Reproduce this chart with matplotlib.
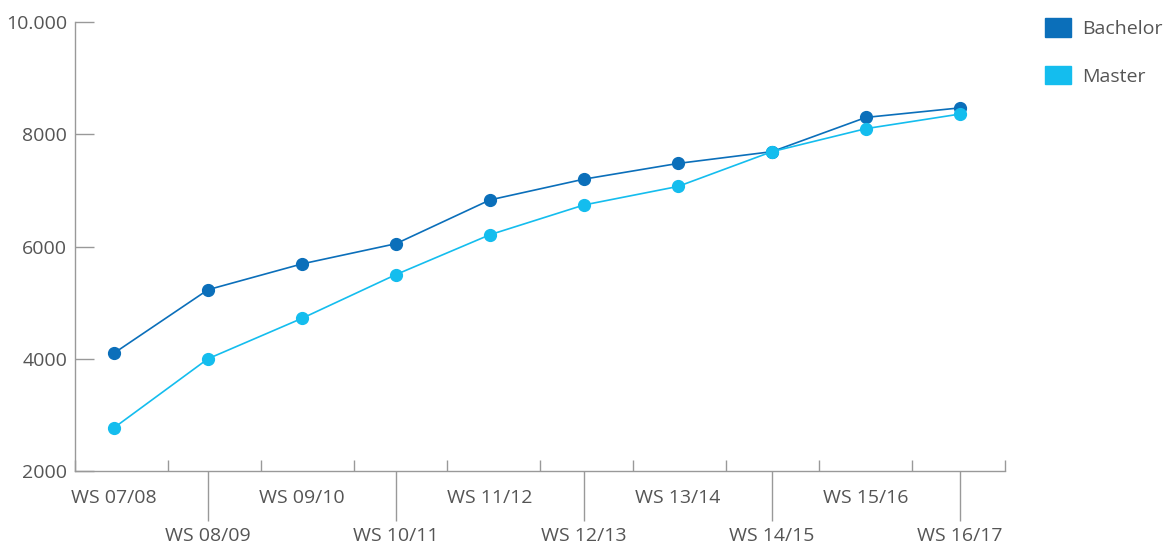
import numpy as np
import matplotlib
matplotlib.use("Agg")
import matplotlib.pyplot as plt
from matplotlib.patches import Patch

plt.rcParams['font.family'] = ['Open Sans', 'DejaVu Sans']

# Studierende je Wintersemester
semesters = ["WS 07/08", "WS 08/09", "WS 09/10", "WS 10/11", "WS 11/12",
             "WS 12/13", "WS 13/14", "WS 14/15", "WS 15/16", "WS 16/17"]
bachelor = [4100, 5230, 5690, 6050, 6830, 7200, 7480, 7690, 8300, 8470]
master = [2770, 4000, 4720, 5500, 6210, 6740, 7070, 7690, 8100, 8360]
yticks = [2000, 4000, 6000, 8000, 10000]
ytick_labels = ["2000", "4000", "6000", "8000", "10.000"]

c_bachelor = "#0b6fba"
c_master = "#14bdee"
c_text = "#555555"
c_axis = "#999999"
fs = 14

fig = plt.figure(figsize=(11.68, 5.44), dpi=100)
ax = fig.add_axes([75 / 1168, 1 - 471 / 544, 930 / 1168, 449 / 544])

x = np.arange(len(semesters))
ax.plot(x, bachelor, color=c_bachelor, lw=1.2, marker="o", ms=8.5, zorder=3)
ax.plot(x, master, color=c_master, lw=1.2, marker="o", ms=8.5, zorder=4)

xmin, xmax = -0.415, 9.479
ax.set_xlim(xmin, xmax)
ax.set_ylim(2000, 10000)

for s in ["top", "right"]:
    ax.spines[s].set_visible(False)
for s in ["left", "bottom"]:
    ax.spines[s].set_color(c_axis)
    ax.spines[s].set_linewidth(1)

ax.set_yticks(yticks)
ax.set_yticklabels(ytick_labels)
ax.tick_params(axis="y", direction="in", length=14, width=1, color=c_axis,
               pad=5.5, labelsize=fs, labelcolor=c_text)

# kurze Striche an den Bandgrenzen, lange an jeder zweiten Kategorie
ax.set_xticks(np.linspace(xmin, xmax, 11), minor=True)
ax.set_xticks(x[1::2])
ax.set_xticklabels([])
ax.tick_params(axis="x", which="minor", direction="in", length=8, width=1, color=c_axis)
ax.tick_params(axis="x", which="major", direction="out", length=36, width=1, color=c_axis)

for i, label in enumerate(semesters):
    off = -19.5 if i % 2 == 0 else -47
    ax.annotate(label, xy=(i, 0), xycoords=("data", "axes fraction"),
                xytext=(0, off), textcoords="offset points",
                ha="center", va="center", fontsize=fs, color=c_text)

handles = [Patch(color=c_bachelor, label="Bachelor"), Patch(color=c_master, label="Master")]
leg = fig.legend(handles=handles, loc="upper left", bbox_to_anchor=(1027 / 1168, 1 - 1 / 544),
                 frameon=False, fontsize=fs, handlelength=1.35, handleheight=1.05,
                 labelspacing=1.45, handletextpad=0.6)
for t in leg.get_texts():
    t.set_color(c_text)

fig.savefig("out.png", dpi=100)
